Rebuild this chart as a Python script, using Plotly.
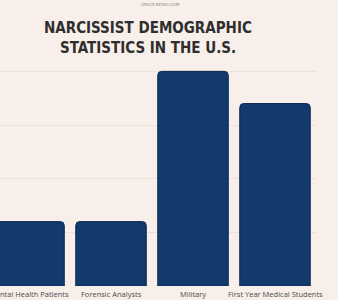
import plotly.graph_objects as go

categories = ["Mental Health Patients", "Forensic Analysts", "Military", "First Year Medical Students"]
values = [6, 6, 20, 17]
title_lines = ["NARCISSIST DEMOGRAPHIC", "STATISTICS IN THE U.S."]
watermark = "GRACE-BEING.COM"

BG = "#f8efea"
BAR = "#133a6d"
W, H = 338, 300
ML, MR, MT, MB = 0, 22, 66, 14
PW, PH = W - ML - MR, H - MT - MB

def px_x(x):
    return (x - ML) / PW

def px_y(y):
    return (H - MB - y) / PH

fig = go.Figure(go.Bar(
    x=list(range(len(categories))),
    y=values,
    marker=dict(color=BAR, line=dict(color="#0c2850", width=1)),
    width=0.86,
    hoverinfo="skip",
))

annotations = []
for i, lab in enumerate(categories):
    annotations.append(dict(
        text=lab, x=i, xref="x", y=px_y(294), yref="paper",
        showarrow=False, xanchor="center", yanchor="middle",
        font=dict(family="Open Sans", size=7.5, color="#4a4a4a"),
    ))

title_font = dict(family="DejaVu Sans Condensed, sans-serif",
                  size=15, color="#2e2e2e", weight="bold")
annotations.append(dict(text=title_lines[0], x=px_x(148), y=px_y(28), xref="paper", yref="paper",
                        showarrow=False, xanchor="center", yanchor="middle", font=title_font))
annotations.append(dict(text=title_lines[1], x=px_x(148), y=px_y(48), xref="paper", yref="paper",
                        showarrow=False, xanchor="center", yanchor="middle", font=title_font))
annotations.append(dict(text=watermark, x=px_x(160), y=px_y(5), xref="paper", yref="paper",
                        showarrow=False, xanchor="center", yanchor="middle",
                        font=dict(family="DejaVu Sans", size=4, color="#888888")))

fig.update_layout(
    width=W, height=H,
    margin=dict(l=ML, r=MR, t=MT, b=MB),
    paper_bgcolor=BG, plot_bgcolor=BG,
    barcornerradius=4,
    showlegend=False,
    xaxis=dict(
        range=[-0.354, 3.5],
        showticklabels=False,
        showgrid=False, zeroline=False, showline=False,
        ticks="", fixedrange=True,
    ),
    yaxis=dict(
        range=[0, 20.5],
        tickvals=[5, 10, 15, 20],
        showticklabels=False,
        showgrid=True, gridcolor="#ebe1da", gridwidth=1,
        zeroline=False, showline=False,
        fixedrange=True,
    ),
    annotations=annotations,
)

fig.write_html("out.html", config={"displayModeBar": False})
